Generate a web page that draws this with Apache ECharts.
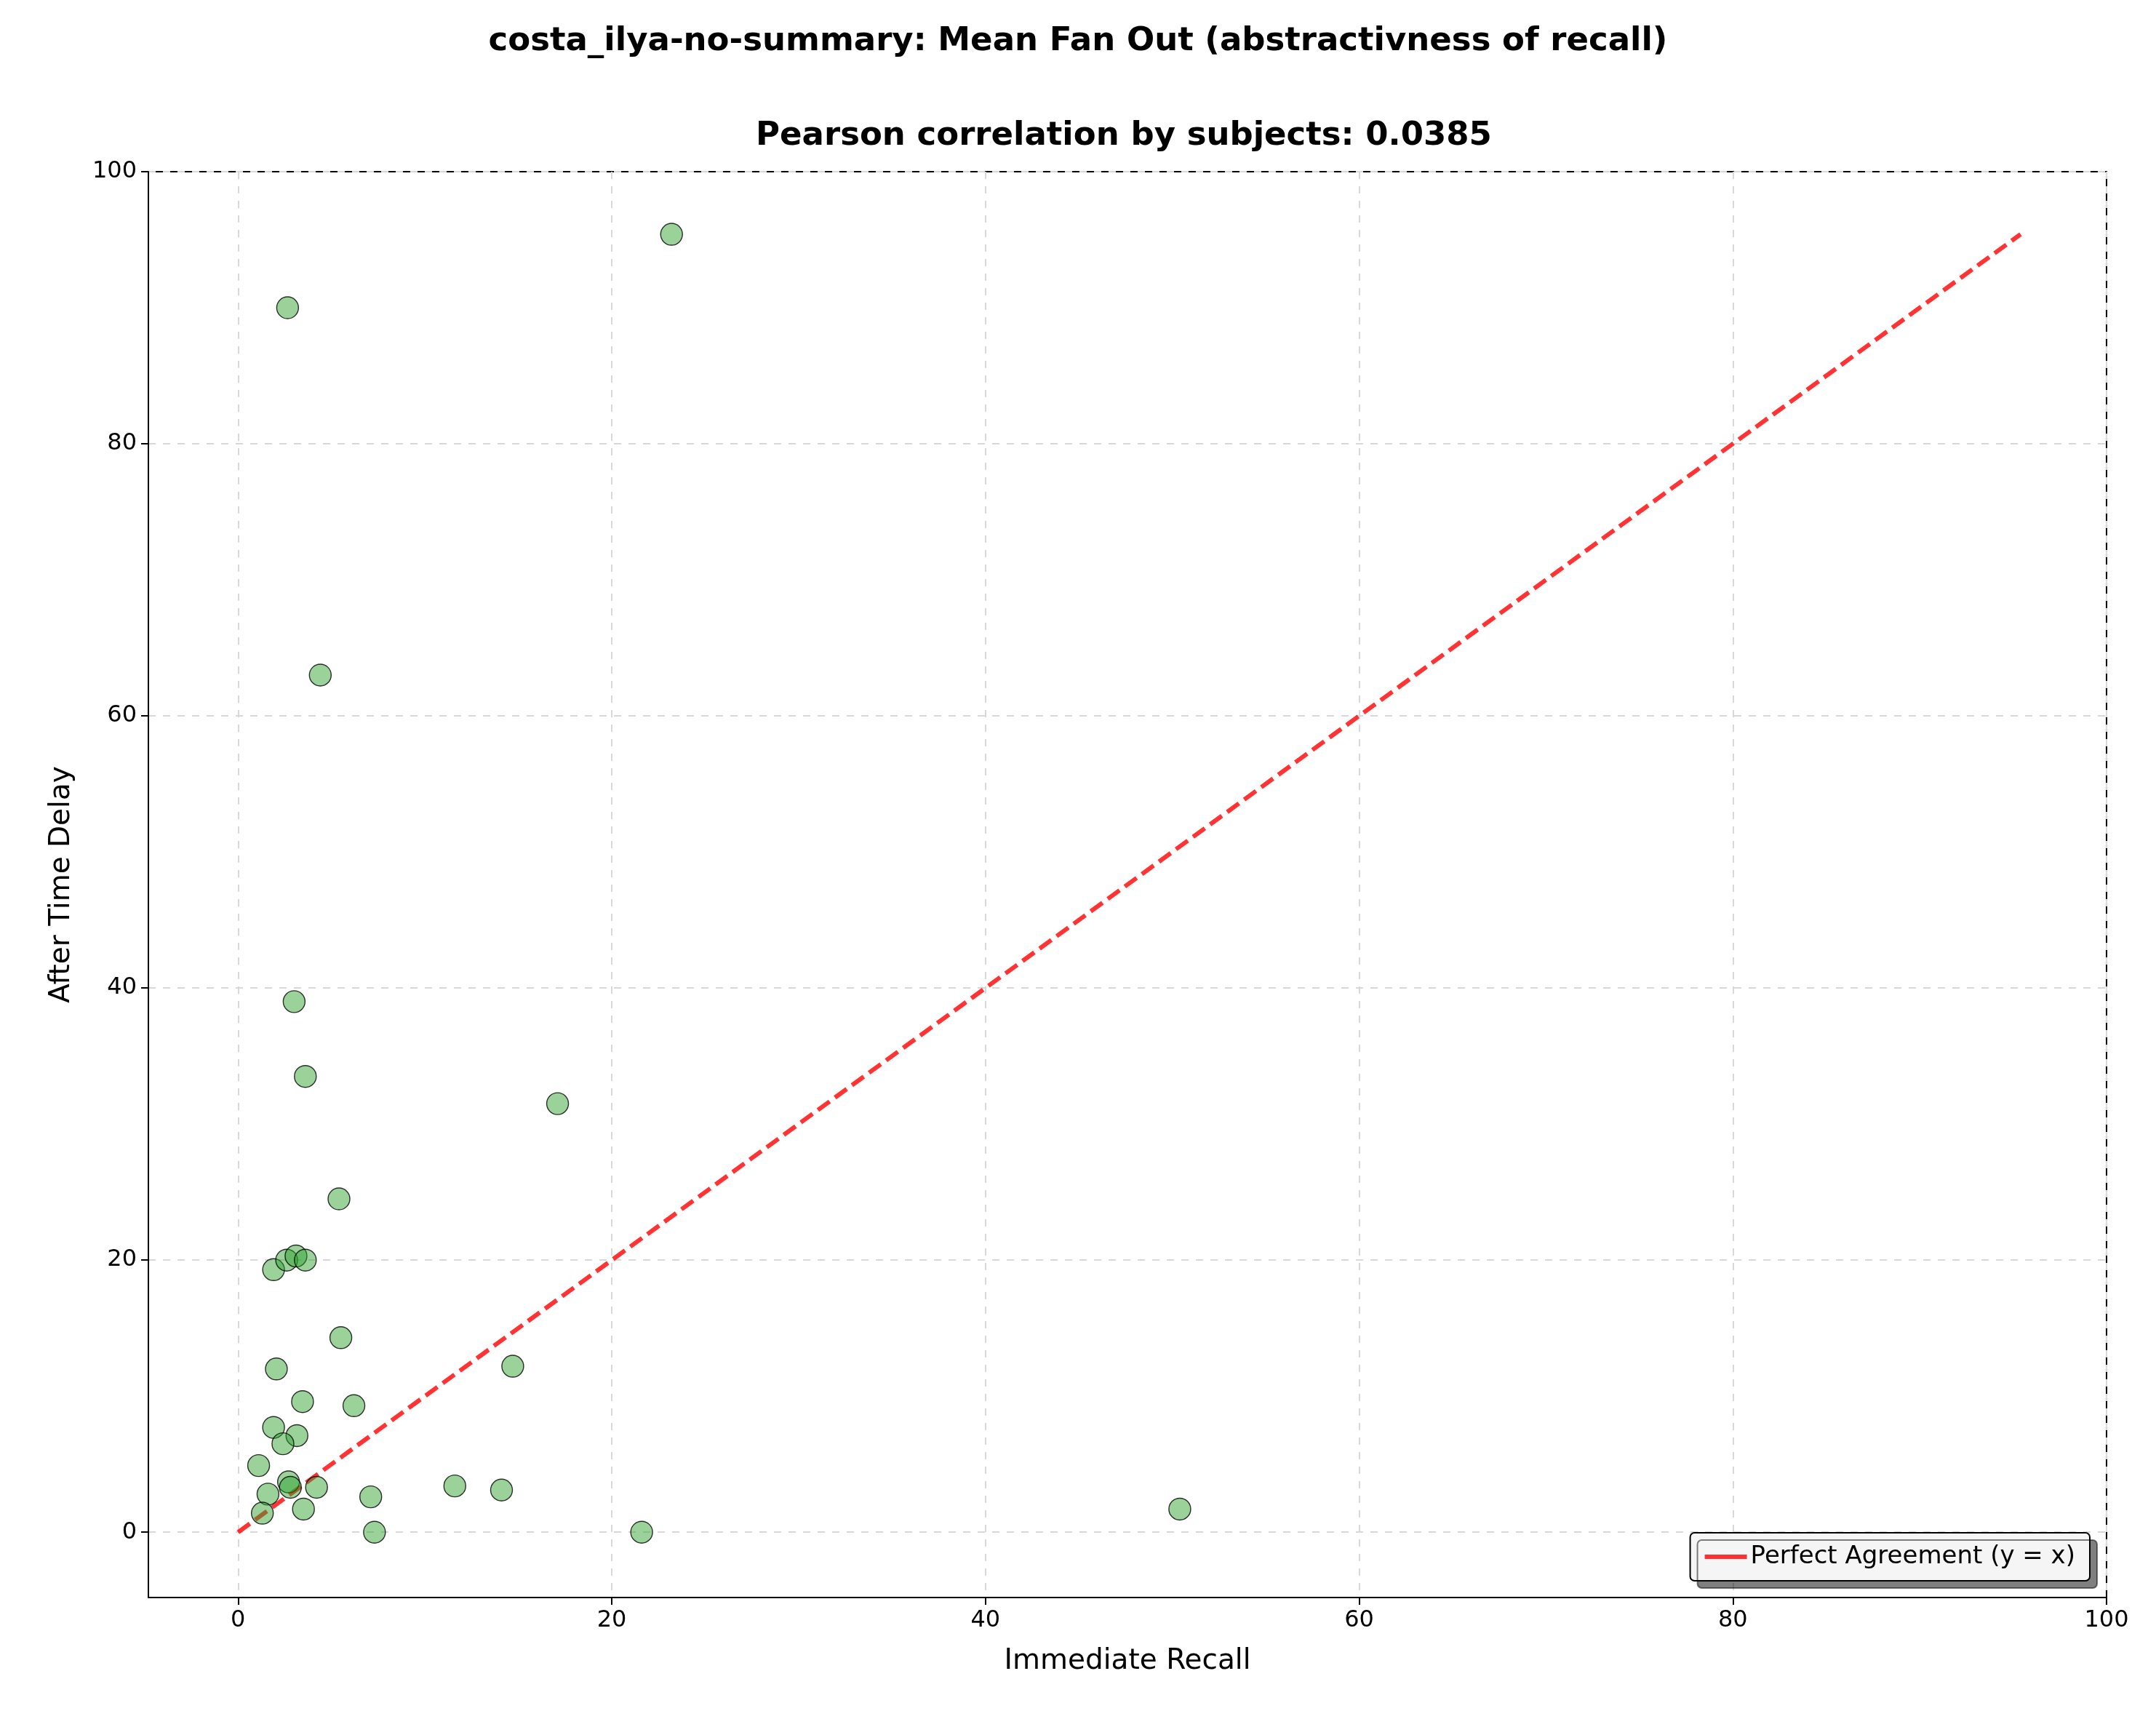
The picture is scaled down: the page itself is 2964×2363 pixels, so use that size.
<!DOCTYPE html>
<html>
<head>
<meta charset="utf-8">
<script src="https://cdn.jsdelivr.net/npm/echarts@6/dist/echarts.min.js"></script>
<style>html,body{margin:0;padding:0;background:#fff}#chart{width:2964px;height:2363px}</style>
</head>
<body>
<div id="chart"></div>
<script>
"use strict";
const immediateRecall = [23.2, 2.65, 4.4, 3.0, 3.6, 17.1, 5.4, 1.9, 2.6, 3.1, 3.6, 5.5, 14.7, 2.05, 3.45, 6.2, 1.9, 3.15, 2.4, 1.1, 2.7, 2.8, 4.2, 1.6, 7.1, 11.6, 14.1, 3.5, 1.3, 50.4, 7.3, 21.6];
const afterDelay = [95.4, 90.0, 63.0, 39.0, 33.5, 31.5, 24.5, 19.3, 20.0, 20.3, 20.0, 14.3, 12.2, 12.0, 9.6, 9.3, 7.7, 7.1, 6.5, 4.9, 3.7, 3.3, 3.3, 2.8, 2.6, 3.4, 3.1, 1.7, 1.4, 1.7, 0, 0];
const tickValues = [0, 20, 40, 60, 80, 100];
const lineEnd = 95.4;

const font = "DejaVu Sans";
const chart = echarts.init(document.getElementById("chart"));
const axisCommon = (name, gap) => ({
    type: "value",
    name,
    nameLocation: "middle",
    nameGap: gap,
    nameTextStyle: { fontFamily: font, fontSize: 39, color: "#000" },
    min: -4.8,
    max: 100,
    axisLine: { onZero: false, lineStyle: { color: "#000", width: 2 } },
    axisTick: { show: true, length: 10, lineStyle: { color: "#000", width: 2 }, customValues: tickValues },
    axisLabel: { fontFamily: font, fontSize: 32, color: "#000", margin: 16, customValues: tickValues },
    splitLine: { show: true, lineStyle: { color: "#d8d8d8", type: [10, 10], width: 2 } },
});
chart.setOption({
    animation: false,
    title: [
        { text: "costa_ilya-no-summary: Mean Fan Out (abstractivness of recall)", left: "center", top: 30, textStyle: { fontFamily: font, fontSize: 45, fontWeight: "bold", color: "#000" } },
        { text: "Pearson correlation by subjects: 0.0385", left: 1540, textAlign: "center", top: 160, textStyle: { fontFamily: font, fontSize: 45, fontWeight: "bold", color: "#000" } },
    ],
    grid: { left: 204, right: 68, top: 236, bottom: 167, show: true, borderColor: "#000", borderWidth: 2 },
    xAxis: axisCommon("Immediate Recall", 68),
    yAxis: axisCommon("After Time Delay", 100),
    legend: {
        right: 91, bottom: 190,
        data: [{ name: "Perfect Agreement (y = x)", icon: "path://M0,0H10V1H0Z" }],
        itemWidth: 58, itemHeight: 6,
        itemStyle: { color: "rgba(255,0,0,0.8)" },
        padding: [16, 20],
        backgroundColor: "#f5f5f5", borderColor: "#000", borderWidth: 2, borderRadius: 6,
        shadowColor: "rgba(0,0,0,0.5)", shadowOffsetX: 10, shadowOffsetY: 10,
        textStyle: { fontFamily: font, fontSize: 34, color: "#000" },
    },
    series: [
        {
            name: "Perfect Agreement (y = x)",
            type: "line",
            symbol: "none",
            data: [[0, 0], [lineEnd, lineEnd]],
            lineStyle: { color: "rgba(255,0,0,0.8)", width: 6, type: [20, 9] },
            z: 3,
        },
        {
            name: "points",
            type: "scatter",
            symbolSize: 30,
            data: immediateRecall.map((x, i) => [x, afterDelay[i]]),
            itemStyle: { color: "rgba(44,160,44,0.6)", borderColor: "#000", borderWidth: 1.4 },
            z: 4,
        },
    ],
});
</script>
</body>
</html>
